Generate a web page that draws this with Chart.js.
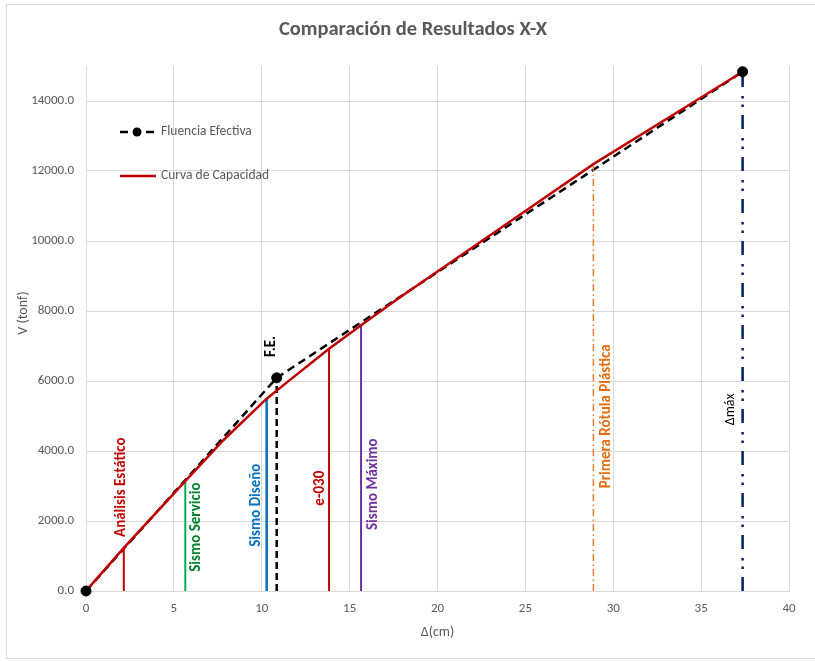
<!DOCTYPE html>
<html>
<head>
<meta charset="utf-8">
<script src="https://cdn.jsdelivr.net/npm/chart.js@4.4.1/dist/chart.umd.min.js"></script>
<style>
  body { margin: 0; background: #fff; }
  #wrap { position: relative; width: 815px; height: 661px; }
  #frame { position: absolute; left: 6px; top: 4px; width: 830px; height: 653px; border: 1px solid #d9d9d9; }
  canvas { position: absolute; left: 0; top: 0; }
</style>
</head>
<body>
<div id="wrap">
  <div id="frame"></div>
  <canvas id="chart" width="815" height="661"></canvas>
</div>
<script>
// Curva de capacidad (Δ en cm, V en tonf)
const capDisp  = [0, 2.15, 5.65, 7.8, 10.28, 11.5, 13.83, 15.65, 17.87, 22, 25, 28.87, 33, 37.36];
const capShear = [0, 1230, 3140, 4300, 5494, 5990, 6920, 7590, 8390, 9820, 10855, 12196, 13480, 14836];

// Fluencia efectiva (bilineal)
const feDisp  = [0, 10.85, 37.36];
const feShear = [0, 6090, 14836];

// Puntos de desempeño
const eventNames = ['Análisis Estático', 'Sismo Servicio', 'Sismo Diseño', 'e-030', 'Sismo Máximo', 'Primera Rótula Plástica', 'Δmáx'];
const eventDisp  = [2.15, 5.65, 10.28, 13.83, 15.65, 28.87, 37.36];
const eventShear = [1230, 3140, 5494, 6920, 7590, 12196, 14836];

const yTickValues = [0, 2000, 4000, 6000, 8000, 10000, 12000, 14000];
const xTickValues = [0, 5, 10, 15, 20, 25, 30, 35, 40];

const FONT = "Carlito, Calibri, 'Liberation Sans Narrow', 'Open Sans', sans-serif";
const GREY = '#595959';

// estilo de cada línea vertical y su rótulo
const eventStyle = [
  { line: '#C00000', text: '#C00000', width: 2,   dash: [],                     dx: -3,  mid: 2965, bold: true },
  { line: '#00B050', text: '#00802B', width: 2,   dash: [],                     dx: 11,  mid: 1825, bold: true },
  { line: '#0070C0', text: '#0070C0', width: 2.5, dash: [],                     dx: -10, mid: 2452, bold: true },
  { line: '#C00000', text: '#C00000', width: 2,   dash: [],                     dx: -9,  mid: 2937, bold: true },
  { line: '#7030A0', text: '#7030A0', width: 2,   dash: [],                     dx: 12,  mid: 3051, bold: true },
  { line: '#ED7D31', text: '#E36C09', width: 1.5, dash: [7, 3, 1.5, 3.5],       dx: 13,  mid: 4990, bold: true },
  { line: '#002060', text: '#000000', width: 2.5, dash: [14, 8, 2.5, 6, 2.5, 9], dx: -12, mid: 5190, bold: false }
];

function pts(xs, ys) {
  return xs.map((x, i) => ({ x: x, y: ys[i] }));
}

const datasets = [];

// marcadores de la fluencia efectiva (encima de todo)
datasets.push({
  data: pts(feDisp, feShear),
  showLine: false,
  pointRadius: 5,
  pointBackgroundColor: '#000',
  pointBorderColor: '#000',
  clip: false
});

// curva de capacidad
datasets.push({
  data: pts(capDisp, capShear),
  showLine: true,
  borderColor: '#C00000',
  borderWidth: 2.5,
  pointRadius: 0,
  tension: 0
});

// líneas verticales de cada evento
eventNames.forEach((n, i) => {
  const st = eventStyle[i];
  datasets.push({
    data: [{ x: eventDisp[i], y: 0 }, { x: eventDisp[i], y: eventShear[i] }],
    showLine: true,
    borderColor: st.line,
    borderWidth: st.width,
    borderDash: st.dash,
    borderCapStyle: 'butt',
    pointRadius: 0
  });
});

// bilineal discontinua + caída vertical en F.E.
datasets.push({
  data: pts(feDisp, feShear),
  showLine: true,
  borderColor: '#000',
  borderWidth: 2.5,
  borderDash: [8, 5],
  pointRadius: 0
});
datasets.push({
  data: [{ x: feDisp[1], y: 0 }, { x: feDisp[1], y: feShear[1] }],
  showLine: true,
  borderColor: '#000',
  borderWidth: 2.5,
  borderDash: [7, 4],
  pointRadius: 0
});

const textPlugin = {
  id: 'textPlugin',
  afterDraw(chart) {
    const ctx = chart.ctx;
    const xs = chart.scales.x, ys = chart.scales.y;
    ctx.save();

    // título
    ctx.fillStyle = GREY;
    ctx.font = '600 20.5px ' + FONT;
    ctx.textAlign = 'center';
    ctx.textBaseline = 'middle';
    ctx.fillText('Comparación de Resultados X-X', 413, 30);

    // título eje Y
    ctx.save();
    ctx.translate(23, 313);
    ctx.rotate(-Math.PI / 2);
    ctx.font = '14px ' + FONT;
    ctx.fillText('V (tonf)', 0, 0);
    ctx.restore();

    // leyenda
    ctx.font = '13.5px ' + FONT;
    ctx.textAlign = 'left';
    ctx.fillStyle = GREY;
    ctx.strokeStyle = '#000';
    ctx.lineWidth = 2.5;
    ctx.beginPath();
    ctx.moveTo(120, 132); ctx.lineTo(128, 132);
    ctx.moveTo(146, 132); ctx.lineTo(154, 132);
    ctx.stroke();
    ctx.beginPath();
    ctx.arc(137, 132, 4.5, 0, Math.PI * 2);
    ctx.fillStyle = '#000';
    ctx.fill();
    ctx.fillStyle = GREY;
    ctx.fillText('Fluencia Efectiva', 161, 132);
    ctx.strokeStyle = '#C00000';
    ctx.beginPath();
    ctx.moveTo(120, 176); ctx.lineTo(156, 176);
    ctx.stroke();
    ctx.fillText('Curva de Capacidad', 161, 176);

    // rótulos verticales
    ctx.textAlign = 'center';
    eventNames.forEach((n, i) => {
      const st = eventStyle[i];
      ctx.save();
      ctx.translate(xs.getPixelForValue(eventDisp[i]) + st.dx, ys.getPixelForValue(st.mid));
      ctx.rotate(-Math.PI / 2);
      ctx.fillStyle = st.text;
      ctx.font = (st.bold ? 'bold 15px ' : '14px ') + FONT;
      ctx.fillText(n, 0, 0);
      ctx.restore();
    });

    ctx.save();
    ctx.translate(xs.getPixelForValue(feDisp[1]) - 5, ys.getPixelForValue(6986));
    ctx.rotate(-Math.PI / 2);
    ctx.fillStyle = '#000';
    ctx.font = 'bold 15px ' + FONT;
    ctx.fillText('F.E.', 0, 0);
    ctx.restore();

    ctx.restore();
  }
};

new Chart(document.getElementById('chart').getContext('2d'), {
  type: 'scatter',
  data: { datasets: datasets },
  options: {
    responsive: false,
    animation: false,
    layout: { padding: { left: 0, top: 66, right: 26, bottom: 0 } },
    plugins: {
      legend: { display: false },
      tooltip: { enabled: false }
    },
    scales: {
      x: {
        type: 'linear',
        min: 0,
        max: 40,
        afterFit: s => { s.height = 70; },
        afterBuildTicks: s => { s.ticks = xTickValues.map(v => ({ value: v })); },
        grid: { color: '#d9d9d9', drawTicks: false },
        border: { color: '#d9d9d9' },
        ticks: { color: GREY, padding: 10, font: { family: FONT, size: 13 }, maxRotation: 0 },
        title: { display: true, text: 'Δ(cm)', color: GREY, font: { family: FONT, size: 14 }, padding: { top: 0, bottom: 20 } }
      },
      y: {
        type: 'linear',
        min: 0,
        max: 15000,
        afterFit: s => { s.width = 86; },
        afterBuildTicks: s => { s.ticks = yTickValues.map(v => ({ value: v })); },
        grid: { color: '#d9d9d9', drawTicks: false },
        border: { color: '#d9d9d9' },
        ticks: { color: GREY, padding: 12, font: { family: FONT, size: 13 }, callback: v => v.toFixed(1) }
      }
    }
  },
  plugins: [textPlugin]
});
</script>
</body>
</html>
